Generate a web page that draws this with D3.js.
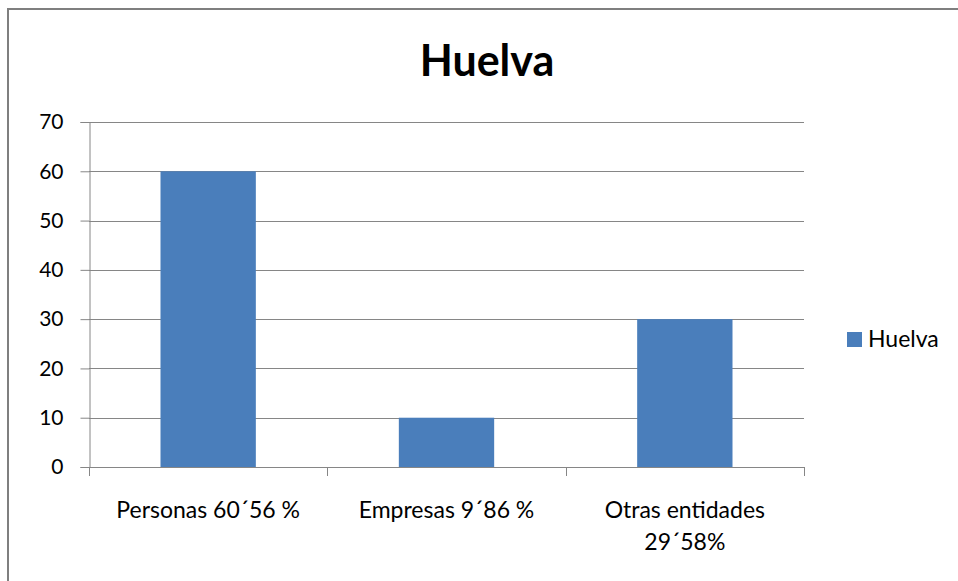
<!DOCTYPE html>
<html>
<head>
<meta charset="utf-8">
<script src="https://cdn.jsdelivr.net/npm/d3@7"></script>
<style>
  body { margin: 0; background: #fff; }
  text { font-family: Lato, "Open Sans", sans-serif; }
</style>
</head>
<body>
<div id="chart"></div>
<script>
// data
var categories = ["Personas", "Empresas", "Otras entidades"];
var values = [60, 10, 30];
var catLabels = [["Personas 60\u00b456 %"], ["Empresas 9\u00b486 %"], ["Otras entidades", "29\u00b458%"]];
var yTicks = [0, 10, 20, 30, 40, 50, 60, 70];
var seriesName = "Huelva";

var width = 958, height = 581;
var plotLeft = 89, plotRight = 804, plotTop = 122, plotBottom = 467;

var svg = d3.select("#chart").append("svg")
  .attr("width", width)
  .attr("height", height);

// outer frame (only left and top visible)
svg.append("rect")
  .attr("x", 8).attr("y", 9)
  .attr("width", 1200).attr("height", 1200)
  .attr("fill", "none")
  .attr("stroke", "#7f7f7f")
  .attr("stroke-width", 2);

var x = d3.scaleBand()
  .domain(categories)
  .range([plotLeft, plotRight])
  .paddingInner(0.6)
  .paddingOuter(0.3);

var xEdge = d3.scaleBand()
  .domain(categories)
  .range([plotLeft, plotRight]);

var y = d3.scaleLinear()
  .domain([0, 70])
  .range([plotBottom, plotTop]);

// gridlines
svg.selectAll("line.grid")
  .data(yTicks.slice(1))
  .enter().append("line")
  .attr("class", "grid")
  .attr("x1", plotLeft).attr("x2", plotRight)
  .attr("y1", function(d) { return Math.round(y(d)) + 0.5; })
  .attr("y2", function(d) { return Math.round(y(d)) + 0.5; })
  .attr("stroke", "#868686")
  .attr("stroke-width", 1);

// bars
svg.selectAll("rect.bar")
  .data(values)
  .enter().append("rect")
  .attr("class", "bar")
  .attr("x", function(d, i) { return x(categories[i]); })
  .attr("y", function(d) { return y(d); })
  .attr("width", x.bandwidth())
  .attr("height", function(d) { return plotBottom - y(d); })
  .attr("fill", "#4a7ebb");

// y axis
var yAxis = svg.append("g")
  .attr("transform", "translate(" + (plotLeft + 0.5) + ",0)")
  .call(d3.axisLeft(y).tickValues(yTicks).tickSize(9).tickPadding(17));
yAxis.select(".domain").attr("stroke", "#868686");
yAxis.selectAll(".tick line").attr("stroke", "#868686");
yAxis.selectAll(".tick text")
  .attr("font-size", "21px")
  .attr("fill", "#000")
  .style("font-family", "Lato, sans-serif");

// x axis line and boundary ticks
svg.append("line")
  .attr("x1", plotLeft).attr("x2", plotRight)
  .attr("y1", plotBottom + 0.5).attr("y2", plotBottom + 0.5)
  .attr("stroke", "#868686");

var edges = categories.map(function(c) { return xEdge(c); }).concat([plotRight]);
svg.selectAll("line.xtick")
  .data(edges)
  .enter().append("line")
  .attr("class", "xtick")
  .attr("x1", function(d) { return Math.round(d) + 0.5; })
  .attr("x2", function(d) { return Math.round(d) + 0.5; })
  .attr("y1", plotBottom).attr("y2", plotBottom + 9)
  .attr("stroke", "#868686");

// category labels
var lab = svg.selectAll("text.cat")
  .data(catLabels)
  .enter().append("text")
  .attr("class", "cat")
  .attr("x", function(d, i) { return x(categories[i]) + x.bandwidth() / 2; })
  .attr("y", 518)
  .attr("text-anchor", "middle")
  .attr("font-size", "23px")
  .attr("fill", "#000");
lab.selectAll("tspan")
  .data(function(d) { return d; })
  .enter().append("tspan")
  .attr("x", function() { return d3.select(this.parentNode).attr("x"); })
  .attr("dy", function(d, i) { return i === 0 ? 0 : 32; })
  .text(function(d) { return d; });

// title
svg.append("text")
  .attr("x", 487).attr("y", 76)
  .attr("text-anchor", "middle")
  .attr("font-size", "43px")
  .attr("font-weight", "bold")
  .attr("fill", "#000")
  .text(seriesName);

// legend
svg.append("rect")
  .attr("x", 847).attr("y", 332)
  .attr("width", 15).attr("height", 15)
  .attr("fill", "#4a7ebb");
svg.append("text")
  .attr("x", 868).attr("y", 347)
  .attr("font-size", "23px")
  .attr("fill", "#000")
  .text(seriesName);
</script>
</body>
</html>
